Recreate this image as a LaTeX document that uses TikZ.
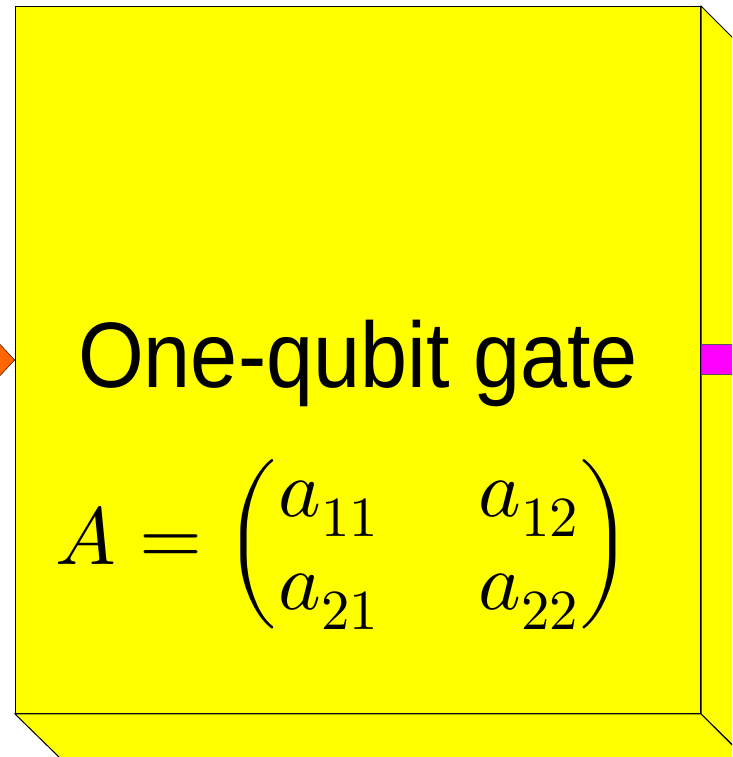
\documentclass[tikz,border=0pt]{standalone}
\usepackage{amsmath}
\usepackage{fontspec}
\usepackage{unicode-math}
\setmainfont{Liberation Sans}
\setmathfont{Latin Modern Math}
\usetikzlibrary{positioning, shapes.geometric}
\definecolor{gateYellow}{HTML}{FFFF00}
\definecolor{portOrange}{HTML}{FF6600}
\definecolor{portMagenta}{HTML}{FF00FF}
\definecolor{portEdge}{HTML}{555555}
\setlength{\arraycolsep}{50pt}
\delimiterfactor=700
\delimitershortfall=40pt

\begin{document}
\begin{tikzpicture}[x=1pt,y=1pt]
      \tikzset{face/.style={draw=black,fill=gateYellow,line width=1pt}, front/.style={face,minimum width=685pt,minimum height=707pt,inner sep=0pt,anchor=south west}, inport/.style={diamond,draw=black,fill=portOrange,minimum width=30pt,minimum height=32pt,inner sep=0pt}, outport/.style={rectangle,draw=portEdge,fill=portMagenta,line width=1pt,minimum width=45pt,minimum height=30pt,inner sep=0pt,anchor=west}}
      \useasboundingbox (0,0) rectangle (732,757);
      \clip (0,0) rectangle (732,757);
      \node[front] (gate) at (15,43) {};
      % side and bottom faces of the block
      \draw[face] (gate.north east) -- ++(45,-45) -- ++(0,-707) -- (gate.south east) -- cycle;
      \draw[face] (gate.south west) -- (gate.south east) -- ++(45,-45) -- ++(-685,0) -- cycle;
      \node[front] at (15,43) {};
      \node[inport,left=0pt of gate.west] (in) {};
      \node[outport] (out) at (gate.east) {};
      \node[anchor=base,font=\fontsize{93}{110}\selectfont,xscale=0.91] (title) at ([yshift=-28pt]gate.center) {One-qubit gate};
      \node[font=\fontsize{81}{93}\selectfont] (matrix) at ([xshift=-14pt,yshift=-184pt]gate.center) {$A=\begin{pmatrix}a_{11}&a_{12}\\a_{21}&a_{22}\end{pmatrix}$};
    \end{tikzpicture}
\end{document}
